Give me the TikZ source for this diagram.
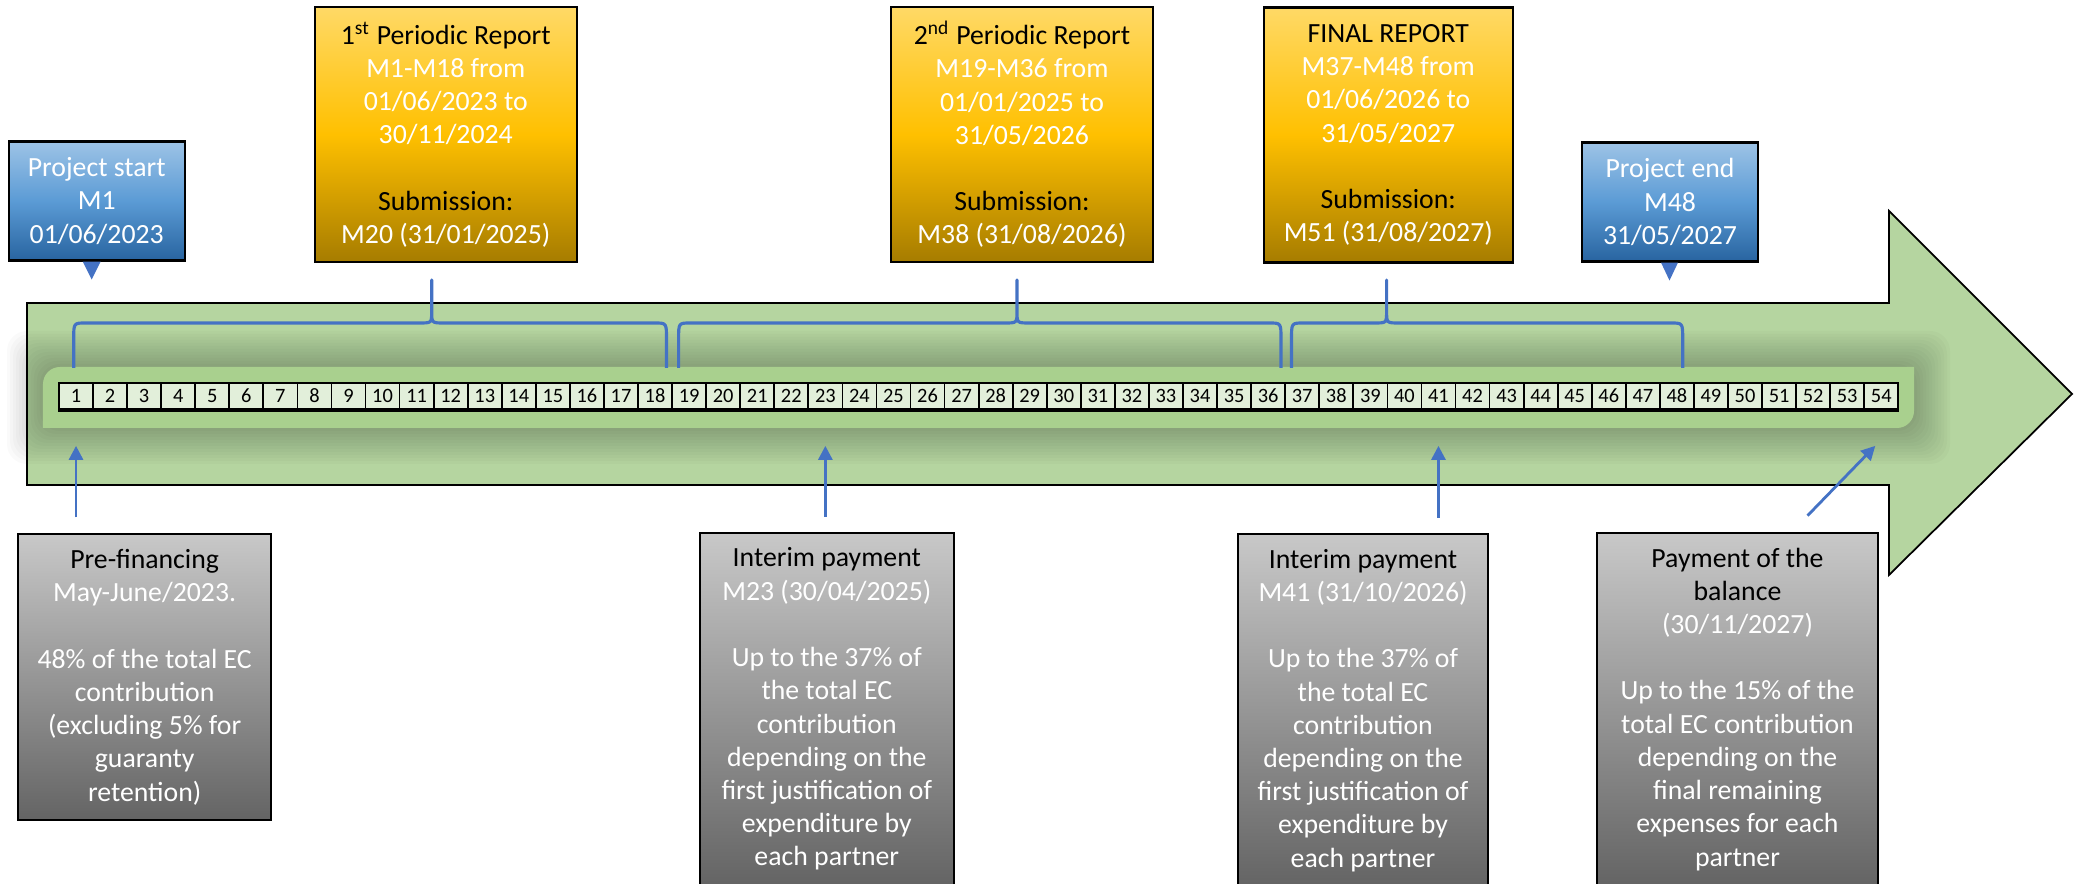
\documentclass[tikz,border=0pt]{standalone}
\usepackage{fontspec}
\setmainfont{Carlito}
\usepackage{tikz}
\usetikzlibrary{calc,arrows.meta}

\definecolor{arrowgreen}{RGB}{181,213,160}
\definecolor{bandgreen}{RGB}{169,208,142}
\definecolor{cellgreen}{RGB}{226,239,218}
\definecolor{markblue}{RGB}{68,114,196}
\definecolor{goldtop}{RGB}{255,217,102}
\definecolor{goldmid}{RGB}{255,192,0}
\definecolor{goldbot}{RGB}{166,124,0}
\definecolor{bluetop}{RGB}{157,195,230}
\definecolor{bluemid}{RGB}{91,155,213}
\definecolor{bluebot}{RGB}{40,100,160}
\definecolor{greytop}{RGB}{200,200,200}
\definecolor{greybot}{RGB}{100,100,100}

\def\periodbrace(#1:#2:#3){\draw[markblue, line width=0.9pt, line join=round] (#1,5.16) -- (#1,5.45) .. controls (#1,5.61) .. ({#1+0.12},5.61) -- ({#2-0.12},5.61) .. controls (#2,5.61) .. (#2,5.73) -- (#2,6.04) -- (#2,5.73) .. controls (#2,5.61) .. ({#2+0.12},5.61) -- ({#3-0.12},5.61) .. controls (#3,5.61) .. (#3,5.45) -- (#3,5.16);}

\tikzset{
	txt/.style={font=\fontsize{7.9}{9.45}\selectfont, align=center, inner sep=0pt},
	report/.style={txt, draw=black, line width=0.6pt, top color=goldtop, bottom color=goldbot, middle color=goldmid, minimum height=2.55cm, text=white},
	milestone/.style={txt, draw=black, line width=0.6pt, top color=bluetop, bottom color=bluebot, middle color=bluemid, minimum width=1.76cm, minimum height=1.19cm, text=white},
	payment/.style={txt, draw=black, line width=0.6pt, top color=greytop, bottom color=greybot, text=white, anchor=north, inner ysep=4.3pt},
	month/.style={draw=black, line width=0.5pt, fill=cellgreen, minimum width=0.3406cm, minimum height=0.26cm, inner sep=0pt, font=\fontsize{5.8}{6}\selectfont},
	payarrow/.style={markblue, line width=0.8pt, -{Triangle[width=0.14cm,length=0.14cm]}}
}

\begin{document}
\begin{tikzpicture}
			%%%%% START %%%%%
			\useasboundingbox (0,0) rectangle (20.78,8.84);
			\clip (0,0) rectangle (20.78,8.84);
			
			% big arrow
			\draw[line width=0.5pt, fill=arrowgreen] (0.27,5.81) -- (18.89,5.81) -- (18.89,6.73) -- (20.72,4.90) -- (18.89,3.09) -- (18.89,3.99) -- (0.27,3.99) -- cycle;
			
			% glow round the band
			\foreach \g in {1,...,12}
				\fill[black, opacity=0.02, rounded corners=0.2cm] ({0.43-0.03*\g},{4.56-0.03*\g}) rectangle ({19.14+0.03*\g},{5.17+0.03*\g});
			\fill[bandgreen] (0.43,4.56) -- (0.43,5.00) arc (180:90:0.17) -- (19.14,5.17) -- (19.14,4.73) arc (0:-90:0.17) -- cycle;
			
			% months
			\foreach \i in {1,...,54}
				\node[month] (m\i) at ({0.59+0.3406*(\i-0.5)},4.88) {\i};
			\draw[line width=1pt] (m1.south west) -- (m54.south east);
			
			% periods
			\periodbrace(0.737:4.317:6.665)
			\periodbrace(6.786:10.17:12.81)
			\periodbrace(12.915:13.866:16.827)
			
			% reports
			\node[report, minimum width=2.62cm] (rep1) at (4.4575,7.495) {\textcolor{black}{1\textsuperscript{st} Periodic Report}\\ M1-M18 from\\ 01/06/2023 to\\ 30/11/2024\\[9.45pt] \textcolor{black}{Submission:}\\ M20 (31/01/2025)};
			\node[report, minimum width=2.62cm] (rep2) at (10.22,7.495) {\textcolor{black}{2\textsuperscript{nd} Periodic Report}\\ M19-M36 from\\ 01/01/2025 to\\ 31/05/2026\\[9.45pt] \textcolor{black}{Submission:}\\ M38 (31/08/2026)};
			\node[report, minimum width=2.49cm] (rep3) at (13.8825,7.49) {\textcolor{black}{FINAL REPORT}\\ M37-M48 from\\ 01/06/2026 to\\ 31/05/2027\\[9.45pt] \textcolor{black}{Submission:}\\ M51 (31/08/2027)};
			
			% start and end
			\node[milestone] (pstart) at (0.967,6.83) {Project start\\ M1\\ 01/06/2023};
			\fill[markblue] ([xshift=-0.14cm]pstart.south) -- ([xshift=0.04cm]pstart.south) -- ([xshift=-0.05cm, yshift=-0.18cm]pstart.south) -- cycle;
			\node[milestone] (pend) at (16.70,6.82) {Project end\\ M48\\ 31/05/2027};
			\fill[markblue] ([xshift=-0.09cm]pend.south) -- ([xshift=0.08cm]pend.south) -- ([xshift=-0.005cm, yshift=-0.18cm]pend.south) -- cycle;
			
			% payments
			\node[payment, minimum width=2.535cm] (prefin) at (1.4465,3.507) {\textcolor{black}{Pre-financing}\\ May-June/2023.\\[9.45pt] 48\% of the total EC\\ contribution\\ (excluding 5\% for\\ guaranty\\ retention)};
			\node[payment, minimum width=2.536cm] (int1) at (8.268,3.523) {\textcolor{black}{Interim payment}\\ M23 (30/04/2025)\\[9.45pt] Up to the 37\% of\\ the total EC\\ contribution\\ depending on the\\ first justification of\\ expenditure by\\ each partner};
			\node[payment, minimum width=2.50cm] (int2) at (13.63,3.51) {\textcolor{black}{Interim payment}\\ M41 (31/10/2026)\\[9.45pt] Up to the 37\% of\\ the total EC\\ contribution\\ depending on the\\ first justification of\\ expenditure by\\ each partner};
			\node[payment, minimum width=2.804cm] (bal) at (17.375,3.523) {\textcolor{black}{Payment of the}\\ \textcolor{black}{balance}\\ (30/11/2027)\\[9.45pt] Up to the 15\% of the\\ total EC contribution\\ depending on the\\ final remaining\\ expenses for each\\ partner};
			
			\draw[payarrow] ($(prefin.north -| m1.south)+(0,0.16)$) -- ($(m1.south)+(0,-0.36)$);
			\draw[payarrow] ($(int1.north -| m23.south)+(0,0.15)$) -- ($(m23.south)+(0,-0.36)$);
			\draw[payarrow] ($(int2.north -| m41.south)+(0,0.15)$) -- ($(m41.south)+(0,-0.36)$);
			\draw[payarrow] ($(bal.north)+(0.7,0.16)$) -- ($(m54.south)+(-0.06,-0.36)$);
			
			%%%%% END %%%%%
\end{tikzpicture}
\end{document}
